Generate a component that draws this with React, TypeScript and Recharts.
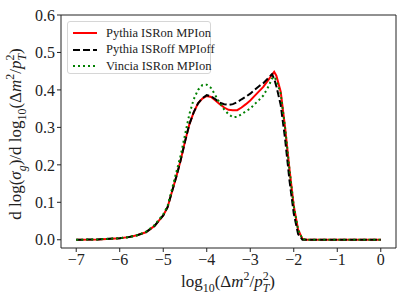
import React from 'react';
import { LineChart, Line, XAxis, YAxis, Legend, ReferenceLine } from 'recharts';

const xs = [-7, -6.5, -6, -5.8, -5.6, -5.4, -5.2, -5.0, -4.9, -4.8, -4.7, -4.6, -4.5, -4.4, -4.3, -4.2, -4.1, -4.0, -3.9, -3.8, -3.7, -3.6, -3.5, -3.4, -3.3, -3.2, -3.1, -3.0, -2.9, -2.8, -2.7, -2.6, -2.5, -2.45, -2.4, -2.3, -2.2, -2.1, -2.0, -1.9, -1.8, -1.7, -1.5, -1.0, -0.5, 0];

const pythiaOn = [0, 0.001, 0.004, 0.007, 0.012, 0.02, 0.037, 0.065, 0.087, 0.128, 0.168, 0.212, 0.262, 0.308, 0.34, 0.364, 0.377, 0.384, 0.381, 0.372, 0.362, 0.353, 0.347, 0.346, 0.346, 0.353, 0.362, 0.372, 0.384, 0.396, 0.408, 0.424, 0.44, 0.448, 0.438, 0.395, 0.3, 0.19, 0.09, 0.027, 0.002, 0, 0, 0, 0, 0];

const pythiaOff = [0, 0.001, 0.004, 0.007, 0.012, 0.02, 0.037, 0.065, 0.087, 0.128, 0.168, 0.212, 0.262, 0.308, 0.34, 0.364, 0.378, 0.386, 0.383, 0.375, 0.366, 0.362, 0.36, 0.362, 0.367, 0.375, 0.382, 0.39, 0.4, 0.41, 0.418, 0.43, 0.442, 0.43, 0.41, 0.36, 0.27, 0.16, 0.07, 0.015, 0, 0, 0, 0, 0, 0];

const vinciaOn = [0, 0.001, 0.004, 0.007, 0.012, 0.021, 0.039, 0.068, 0.09, 0.135, 0.18, 0.225, 0.28, 0.335, 0.375, 0.4, 0.413, 0.414, 0.405, 0.385, 0.365, 0.348, 0.335, 0.327, 0.328, 0.335, 0.343, 0.35, 0.362, 0.373, 0.385, 0.405, 0.43, 0.435, 0.425, 0.39, 0.3, 0.19, 0.09, 0.027, 0.002, 0, 0, 0, 0, 0];

const xTicks = [-7, -6, -5, -4, -3, -2, -1, 0];
const yTicks = [0, 0.1, 0.2, 0.3, 0.4, 0.5, 0.6];

const seriesNames = ['Pythia ISRon MPIon', 'Pythia ISRoff MPIoff', 'Vincia ISRon MPIon'];

const data = xs.map((x, i) => ({ x, a: pythiaOn[i], b: pythiaOff[i], c: vinciaOn[i] }));

const FONT = '"Liberation Serif", serif';
const X_DOMAIN: [number, number] = [-7.35, 0.35];
const Y_DOMAIN: [number, number] = [-0.022, 0.6];

const fmtX = (v: number) => (v < 0 ? '\u2212' + Math.abs(v) : String(v));
const fmtY = (v: number) => v.toFixed(1);

type Seg = { t: string; it?: boolean; s?: 'sub' | 'sup'; back?: boolean };

function mathSpans(segs: Seg[], fs: number) {
  let cur = 0;
  const small = fs * 0.7;
  return segs.map((sg, i) => {
    const target = sg.s === 'sub' ? fs * 0.3 : sg.s === 'sup' ? -fs * 0.4 : 0;
    const dy = target - cur;
    cur = target;
    return (
      <tspan
        key={i}
        dy={dy}
        dx={sg.back ? -small * 0.5 : undefined}
        fontStyle={sg.it ? 'italic' : 'normal'}
        fontSize={sg.s ? small : fs}
      >
        {sg.t}
      </tspan>
    );
  });
}

const ySegs: Seg[] = [
  { t: 'd log(' },
  { t: 'σ', it: true },
  { t: 'g', it: true, s: 'sub' },
  { t: ')/d log' },
  { t: '10', s: 'sub' },
  { t: '(Δ' },
  { t: 'm', it: true },
  { t: '2', s: 'sup' },
  { t: '/' },
  { t: 'p', it: true },
  { t: '2', s: 'sup' },
  { t: 'T', it: true, s: 'sub', back: true },
  { t: ')' },
];

const xSegs: Seg[] = [
  { t: 'log' },
  { t: '10', s: 'sub' },
  { t: '(Δ' },
  { t: 'm', it: true },
  { t: '2', s: 'sup' },
  { t: '/' },
  { t: 'p', it: true },
  { t: '2', s: 'sup' },
  { t: 'T', it: true, s: 'sub', back: true },
  { t: ')' },
];

const YLabel = () => (
  <text x={0} y={0} transform="translate(21,134) rotate(-90)" textAnchor="middle" fontFamily={FONT} fill="#222">
    {mathSpans(ySegs, 17)}
  </text>
);

const XLabel = () => (
  <text x={228} y={287} textAnchor="middle" fontFamily={FONT} fill="#222">
    {mathSpans(xSegs, 17)}
  </text>
);

const styles = [
  { color: '#ff0000', dash: undefined as string | undefined },
  { color: '#000000', dash: '7 3' },
  { color: '#008000', dash: '2 3' },
];

const LegendBox = () => (
  <div
    style={{
      width: 144,
      height: 53,
      border: '1px solid #d6d6d6',
      borderRadius: 3,
      background: 'rgba(255,255,255,0.8)',
      boxSizing: 'border-box',
      position: 'relative',
      fontFamily: FONT,
      fontSize: 12.5,
      color: '#222',
    }}
  >
    {seriesNames.map((n, i) => (
      <div key={n} style={{ position: 'absolute', left: 4, top: 3 + i * 16.5, height: 16, display: 'flex', alignItems: 'center' }}>
        <svg width={26} height={10} style={{ display: 'block' }}>
          <line x1={1} y1={5} x2={25} y2={5} stroke={styles[i].color} strokeWidth={2} strokeDasharray={styles[i].dash} />
        </svg>
        <span style={{ marginLeft: 8, whiteSpace: 'nowrap' }}>{n}</span>
      </div>
    ))}
  </div>
);

export default function App() {
  return (
    <div style={{ position: 'absolute', left: 0, top: 0, width: 406, height: 304, background: '#fff' }}>
      <LineChart width={406} height={304} data={data} margin={{ top: 15, right: 10, left: 0, bottom: 0 }}>
        <XAxis
          dataKey="x"
          type="number"
          domain={X_DOMAIN}
          ticks={xTicks}
          tickFormatter={fmtX}
          allowDataOverflow
          height={56}
          stroke="#222"
          tickSize={4}
          tickMargin={2}
          tick={{ fill: '#222', fontFamily: FONT, fontSize: 16 }}
          label={{ content: XLabel }}
        />
        <YAxis
          type="number"
          domain={Y_DOMAIN}
          ticks={yTicks}
          tickFormatter={fmtY}
          allowDataOverflow
          width={61}
          stroke="#222"
          tickSize={4}
          tickMargin={2}
          tick={{ fill: '#222', fontFamily: FONT, fontSize: 16 }}
          label={{ content: YLabel }}
        />
        <ReferenceLine y={Y_DOMAIN[1]} stroke="#222" strokeWidth={1} ifOverflow="extendDomain" />
        <ReferenceLine x={X_DOMAIN[1]} stroke="#222" strokeWidth={1} ifOverflow="extendDomain" />
        <Legend
          layout="vertical"
          align="center"
          verticalAlign="middle"
          wrapperStyle={{ left: 67, top: 21, width: 146, height: 55 }}
          content={() => <LegendBox />}
        />
        <Line dataKey="a" stroke="#ff0000" strokeWidth={2} dot={false} isAnimationActive={false} type="linear" />
        <Line dataKey="b" stroke="#000000" strokeWidth={2} strokeDasharray="7 3" dot={false} isAnimationActive={false} type="linear" />
        <Line dataKey="c" stroke="#008000" strokeWidth={2} strokeDasharray="2 3" dot={false} isAnimationActive={false} type="linear" />
      </LineChart>
    </div>
  );
}
